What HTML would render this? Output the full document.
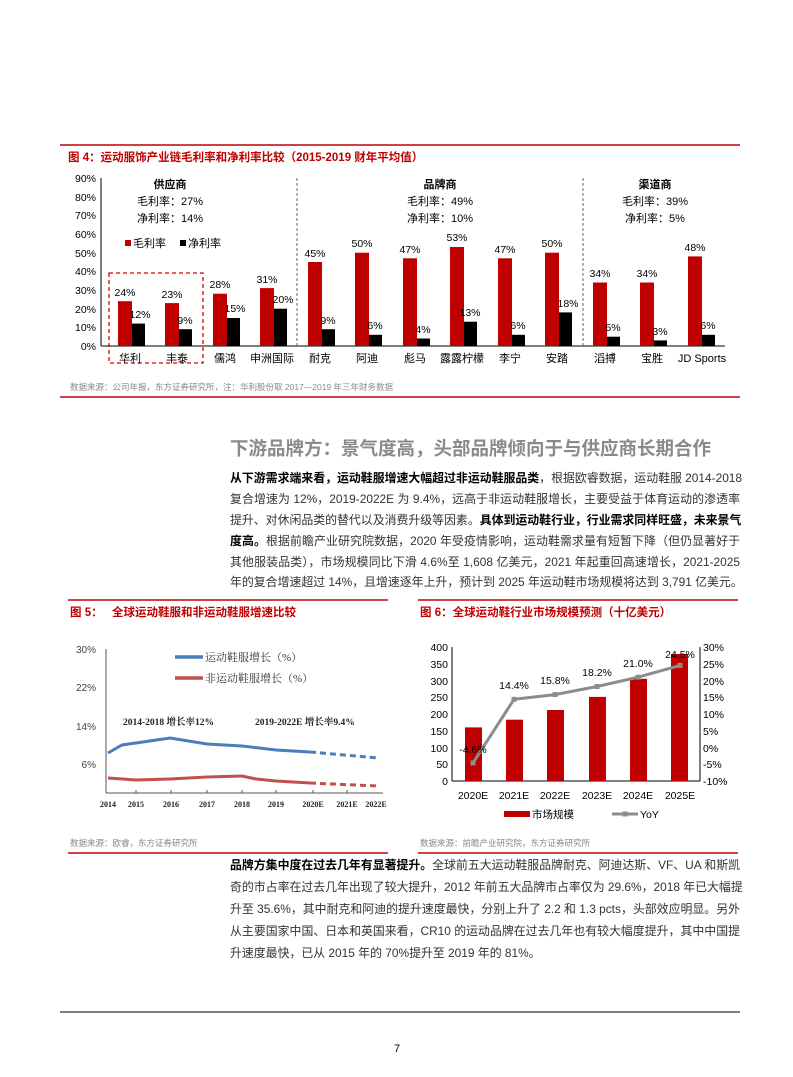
<!DOCTYPE html>
<html><head><meta charset="utf-8">
<style>
body{margin:0;background:#fff;}
#p{position:relative;width:793px;height:1077px;overflow:hidden;font-family:"Liberation Sans","Noto Sans CJK SC",sans-serif;}
svg{position:absolute;left:0;top:0;}
.ln{position:absolute;left:230px;width:510px;font-size:11.9px;line-height:16px;color:#333;text-align:justify;text-align-last:justify;white-space:nowrap;overflow:visible;}
.ln.l{text-align-last:left;}
.ln b{color:#000;}
</style></head><body><div id="p">
<svg width="793" height="1077" viewBox="0 0 793 1077" font-family="Liberation Sans, Noto Sans CJK SC, sans-serif">
<!-- Figure 4 -->
<line x1="60" y1="145" x2="740" y2="145" stroke="#c00000" stroke-width="1.5"/>
<text x="68" y="161" font-size="11.5" font-weight="bold" fill="#c00000">图 4：运动服饰产业链毛利率和净利率比较（2015-2019 财年平均值）</text>
<g font-size="10.5" fill="#000" text-anchor="end">
<text x="96" y="182">90%</text><text x="96" y="201">80%</text><text x="96" y="219">70%</text><text x="96" y="238">60%</text><text x="96" y="257">50%</text><text x="96" y="275">40%</text><text x="96" y="294">30%</text><text x="96" y="313">20%</text><text x="96" y="331">10%</text><text x="96" y="350">0%</text>
</g>
<line x1="101" y1="178" x2="101" y2="346" stroke="#000"/>
<line x1="101" y1="346" x2="725" y2="346" stroke="#000"/>
<line x1="297" y1="178" x2="297" y2="346" stroke="#666" stroke-dasharray="3,2"/>
<line x1="583" y1="178" x2="583" y2="346" stroke="#666" stroke-dasharray="3,2"/>
<rect x="109" y="273" width="94" height="90" fill="none" stroke="#d00" stroke-dasharray="4,3" stroke-width="1.3"/>
<g fill="#c00000">
<rect x="118" y="301.2" width="14" height="44.8"/><rect x="165" y="303.1" width="14" height="42.9"/><rect x="213" y="293.7" width="14" height="52.3"/><rect x="260" y="288.1" width="14" height="57.9"/><rect x="308" y="262" width="14" height="84"/><rect x="355" y="252.7" width="14" height="93.3"/><rect x="403" y="258.3" width="14" height="87.7"/><rect x="450" y="247" width="14" height="99"/><rect x="498" y="258.3" width="14" height="87.7"/><rect x="545" y="252.7" width="14" height="93.3"/><rect x="593" y="282.5" width="14" height="63.5"/><rect x="640" y="282.5" width="14" height="63.5"/><rect x="688" y="256.4" width="14" height="89.6"/>
</g>
<g fill="#000">
<rect x="132" y="323.6" width="13" height="22.4"/><rect x="179" y="329.2" width="13" height="16.8"/><rect x="227" y="318" width="13" height="28"/><rect x="274" y="308.7" width="13" height="37.3"/><rect x="322" y="329.2" width="13" height="16.8"/><rect x="369" y="334.8" width="13" height="11.2"/><rect x="417" y="338.5" width="13" height="7.5"/><rect x="464" y="321.7" width="13" height="24.3"/><rect x="512" y="334.8" width="13" height="11.2"/><rect x="559" y="312.4" width="13" height="33.6"/><rect x="607" y="336.7" width="13" height="9.3"/><rect x="654" y="340.4" width="13" height="5.6"/><rect x="702" y="334.8" width="13" height="11.2"/>
</g>
<g font-size="10.5" text-anchor="middle" fill="#000">
<text x="125" y="296">24%</text><text x="172" y="298">23%</text><text x="220" y="288">28%</text><text x="267" y="283">31%</text><text x="315" y="257">45%</text><text x="362" y="247">50%</text><text x="410" y="253">47%</text><text x="457" y="241">53%</text><text x="505" y="253">47%</text><text x="552" y="247">50%</text><text x="600" y="277">34%</text><text x="647" y="277">34%</text><text x="695" y="251">48%</text>
<text x="140" y="318">12%</text><text x="185" y="324">9%</text><text x="235" y="312">15%</text><text x="283" y="303">20%</text><text x="328" y="324">9%</text><text x="375" y="329">6%</text><text x="423" y="333">4%</text><text x="470" y="316">13%</text><text x="518" y="329">6%</text><text x="568" y="307">18%</text><text x="613" y="331">5%</text><text x="660" y="335">3%</text><text x="708" y="329">6%</text>
</g>
<g font-size="11" text-anchor="middle" fill="#000">
<text x="130" y="362">华利</text><text x="177" y="362">丰泰</text><text x="225" y="362">儒鸿</text><text x="272" y="362">申洲国际</text><text x="320" y="362">耐克</text><text x="367" y="362">阿迪</text><text x="415" y="362">彪马</text><text x="462" y="362">露露柠檬</text><text x="510" y="362">李宁</text><text x="557" y="362">安踏</text><text x="605" y="362">滔搏</text><text x="652" y="362">宝胜</text><text x="702" y="362">JD Sports</text>
<text x="170" y="188" font-weight="bold">供应商</text><text x="170" y="205">毛利率：27%</text><text x="170" y="222">净利率：14%</text>
<text x="440" y="188" font-weight="bold">品牌商</text><text x="440" y="205">毛利率：49%</text><text x="440" y="222">净利率：10%</text>
<text x="655" y="188" font-weight="bold">渠道商</text><text x="655" y="205">毛利率：39%</text><text x="655" y="222">净利率：5%</text>
</g>
<rect x="125" y="240" width="6" height="6" fill="#c00000"/><text x="133" y="247" font-size="11">毛利率</text>
<rect x="180" y="240" width="6" height="6" fill="#000"/><text x="188" y="247" font-size="11">净利率</text>
<text x="70" y="390" font-size="8.5" fill="#888">数据来源：公司年报，东方证券研究所，注：华利股份取 2017—2019 年三年财务数据</text>
<line x1="60" y1="397" x2="740" y2="397" stroke="#c00000" stroke-width="1.5"/>
<text x="230" y="455" font-size="18.5" font-weight="bold" fill="#8a8a8a">下游品牌方：景气度高，头部品牌倾向于与供应商长期合作</text>

<!-- Figure 5 -->
<line x1="68" y1="600" x2="388" y2="600" stroke="#c00000" stroke-width="1.5"/>
<text x="70" y="616" font-size="11.5" font-weight="bold" fill="#c00000">图 5：</text>
<text x="112" y="616" font-size="11.5" font-weight="bold" fill="#c00000">全球运动鞋服和非运动鞋服增速比较</text>
<g font-size="10" fill="#444" text-anchor="end">
<text x="96" y="653">30%</text><text x="96" y="691">22%</text><text x="96" y="730">14%</text><text x="96" y="768">6%</text>
</g>
<line x1="106" y1="649" x2="106" y2="793" stroke="#555"/>
<line x1="106" y1="793" x2="383" y2="793" stroke="#555"/>
<g stroke="#555"><line x1="136" y1="790" x2="136" y2="793"/><line x1="171" y1="790" x2="171" y2="793"/><line x1="207" y1="790" x2="207" y2="793"/><line x1="242" y1="790" x2="242" y2="793"/><line x1="276" y1="790" x2="276" y2="793"/><line x1="313" y1="790" x2="313" y2="793"/><line x1="347" y1="790" x2="347" y2="793"/></g>
<g font-size="8" font-weight="bold" font-family="Liberation Serif, serif" fill="#222" text-anchor="middle">
<text x="108" y="807">2014</text><text x="136" y="807">2015</text><text x="171" y="807">2016</text><text x="207" y="807">2017</text><text x="242" y="807">2018</text><text x="276" y="807">2019</text><text x="313" y="807">2020E</text><text x="347" y="807">2021E</text><text x="376" y="807">2022E</text>
</g>
<polyline points="108,753 122,745 136,743 170,738 207,744 242,746 276,750 310,752" fill="none" stroke="#4a7ebb" stroke-width="3"/>
<line x1="310" y1="752" x2="378" y2="758" stroke="#4a7ebb" stroke-width="3" stroke-dasharray="6,4"/>
<polyline points="108,778 136,780 170,779 207,777 242,776 256,779 276,781 310,783" fill="none" stroke="#c0504d" stroke-width="3"/>
<line x1="310" y1="783" x2="378" y2="786" stroke="#c0504d" stroke-width="3" stroke-dasharray="6,4"/>
<line x1="175" y1="657" x2="203" y2="657" stroke="#4a7ebb" stroke-width="3.5"/>
<text x="205" y="661" font-size="11" font-family="Liberation Serif, Noto Serif CJK SC, serif" fill="#333">运动鞋服增长（%）</text>
<line x1="175" y1="678" x2="203" y2="678" stroke="#c0504d" stroke-width="3.5"/>
<text x="205" y="682" font-size="11" font-family="Liberation Serif, Noto Serif CJK SC, serif" fill="#333">非运动鞋服增长（%）</text>
<text x="123" y="725" font-size="9.5" font-weight="bold" font-family="Liberation Serif, Noto Serif CJK SC, serif" fill="#222">2014-2018 增长率12%</text>
<text x="255" y="725" font-size="9.5" font-weight="bold" font-family="Liberation Serif, Noto Serif CJK SC, serif" fill="#222">2019-2022E 增长率9.4%</text>
<text x="70" y="846" font-size="8.5" fill="#888">数据来源：欧睿，东方证券研究所</text>
<line x1="68" y1="853" x2="388" y2="853" stroke="#c00000" stroke-width="1.5"/>

<!-- Figure 6 -->
<line x1="418" y1="600" x2="738" y2="600" stroke="#c00000" stroke-width="1.5"/>
<text x="420" y="616" font-size="11.5" font-weight="bold" fill="#c00000">图 6：全球运动鞋行业市场规模预测（十亿美元）</text>
<g font-size="10.5" fill="#000" text-anchor="end">
<text x="448" y="651">400</text><text x="448" y="668">350</text><text x="448" y="685">300</text><text x="448" y="701">250</text><text x="448" y="718">200</text><text x="448" y="735">150</text><text x="448" y="752">100</text><text x="448" y="768">50</text><text x="448" y="785">0</text>
</g>
<g font-size="10.5" fill="#000">
<text x="703" y="651">30%</text><text x="703" y="668">25%</text><text x="703" y="685">20%</text><text x="703" y="701">15%</text><text x="703" y="718">10%</text><text x="703" y="735">5%</text><text x="703" y="752">0%</text><text x="703" y="768">-5%</text><text x="703" y="785">-10%</text>
</g>
<line x1="452" y1="647" x2="452" y2="781" stroke="#000"/>
<line x1="700" y1="647" x2="700" y2="781" stroke="#000"/>
<line x1="452" y1="781" x2="700" y2="781" stroke="#000"/>
<g fill="#c00000">
<rect x="465" y="727.4" width="17" height="53.6"/><rect x="506" y="719.7" width="17" height="61.3"/><rect x="547" y="710" width="17" height="71"/><rect x="589" y="696.9" width="17" height="84.1"/><rect x="630" y="678.8" width="17" height="102.2"/><rect x="671" y="654" width="17" height="127"/>
</g>
<polyline points="473,762.9 514,699.3 555,694.6 597,686.5 638,677.2 680,665.4" fill="none" stroke="#8c8c8c" stroke-width="3"/>
<g fill="#8c8c8c"><rect x="470.5" y="760.4" width="5" height="5"/><rect x="511.5" y="696.8" width="5" height="5"/><rect x="552.5" y="692.1" width="5" height="5"/><rect x="594.5" y="684" width="5" height="5"/><rect x="635.5" y="674.7" width="5" height="5"/><rect x="677.5" y="662.9" width="5" height="5"/></g>
<g font-size="10.5" fill="#000" text-anchor="middle">
<text x="473" y="753">-4.6%</text><text x="514" y="689">14.4%</text><text x="555" y="684">15.8%</text><text x="597" y="676">18.2%</text><text x="638" y="667">21.0%</text><text x="680" y="658">24.5%</text>
<text x="473" y="799">2020E</text><text x="514" y="799">2021E</text><text x="555" y="799">2022E</text><text x="597" y="799">2023E</text><text x="638" y="799">2024E</text><text x="680" y="799">2025E</text>
</g>
<rect x="504" y="811" width="26" height="6" fill="#c00000"/><text x="532" y="818" font-size="10.5">市场规模</text>
<line x1="612" y1="814" x2="638" y2="814" stroke="#8c8c8c" stroke-width="3"/><rect x="622.5" y="811.5" width="5" height="5" fill="#8c8c8c"/><text x="640" y="818" font-size="10.5">YoY</text>
<text x="420" y="846" font-size="8.5" fill="#888">数据来源：前瞻产业研究院，东方证券研究所</text>
<line x1="418" y1="853" x2="738" y2="853" stroke="#c00000" stroke-width="1.5"/>

<line x1="60" y1="1012" x2="740" y2="1012" stroke="#333" stroke-width="1.2"/>
<text x="397" y="1052" font-size="11" text-anchor="middle">7</text>
</svg>

<div class="ln" style="top:470px"><b>从下游需求端来看，运动鞋服增速大幅超过非运动鞋服品类</b>，根据欧睿数据，运动鞋服 2014-2018</div>
<div class="ln" style="top:491px">复合增速为 12%，2019-2022E 为 9.4%，远高于非运动鞋服增长，主要受益于体育运动的渗透率</div>
<div class="ln" style="top:512px">提升、对休闲品类的替代以及消费升级等因素。<b>具体到运动鞋行业，行业需求同样旺盛，未来景气</b></div>
<div class="ln" style="top:533px"><b>度高。</b>根据前瞻产业研究院数据，2020 年受疫情影响，运动鞋需求量有短暂下降（但仍显著好于</div>
<div class="ln" style="top:554px">其他服装品类），市场规模同比下滑 4.6%至 1,608 亿美元，2021 年起重回高速增长，2021-2025</div>
<div class="ln" style="top:574px">年的复合增速超过 14%，且增速逐年上升，预计到 2025 年运动鞋市场规模将达到 3,791 亿美元。</div>

<div class="ln" style="top:857px"><b>品牌方集中度在过去几年有显著提升。</b>全球前五大运动鞋服品牌耐克、阿迪达斯、VF、UA 和斯凯</div>
<div class="ln" style="top:879px">奇的市占率在过去几年出现了较大提升，2012 年前五大品牌市占率仅为 29.6%，2018 年已大幅提</div>
<div class="ln" style="top:901px">升至 35.6%，其中耐克和阿迪的提升速度最快，分别上升了 2.2 和 1.3 pcts，头部效应明显。另外</div>
<div class="ln" style="top:923px">从主要国家中国、日本和英国来看，CR10 的运动品牌在过去几年也有较大幅度提升，其中中国提</div>
<div class="ln l" style="top:945px">升速度最快，已从 2015 年的 70%提升至 2019 年的 81%。</div>
</div></body></html>
